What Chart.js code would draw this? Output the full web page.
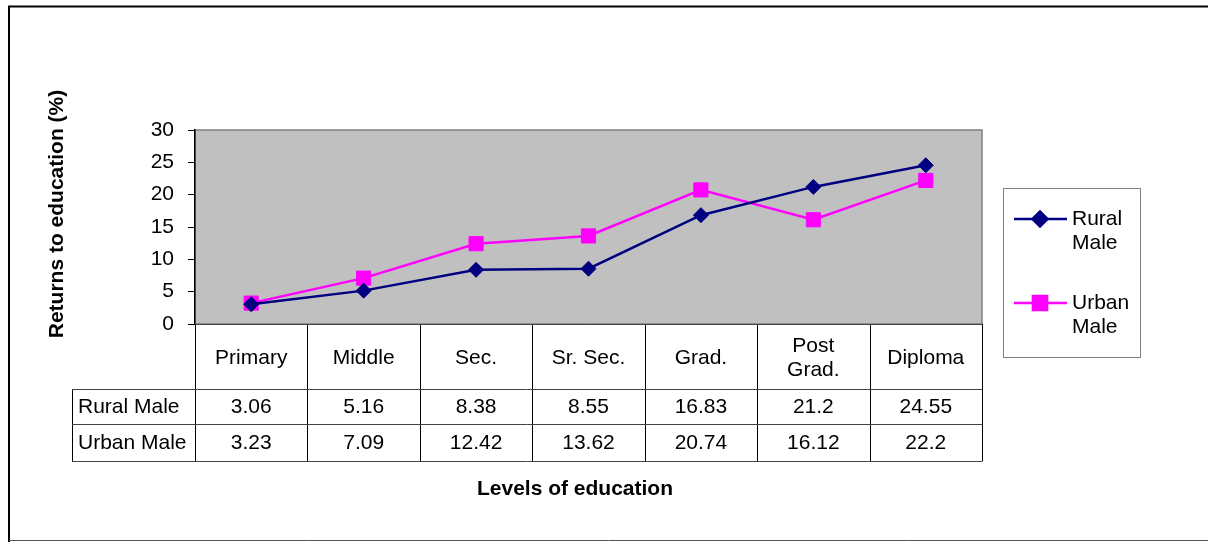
<!DOCTYPE html>
<html>
<head>
<meta charset="utf-8">
<script src="https://cdn.jsdelivr.net/npm/chart.js@4.4.1/dist/chart.umd.min.js"></script>
<style>
  html, body { margin: 0; padding: 0; background: #fff; }
  #wrap { width: 1208px; height: 542px; position: relative; }
</style>
</head>
<body>
<div id="wrap"><canvas id="c" width="1208" height="542"></canvas></div>
<script>
const levels = ['Primary', 'Middle', 'Sec.', 'Sr. Sec.', 'Grad.', ['Post', 'Grad.'], 'Diploma']
const ruralMale = [3.06, 5.16, 8.38, 8.55, 16.83, 21.2, 24.55]
const urbanMale = [3.23, 7.09, 12.42, 13.62, 20.74, 16.12, 22.2]
const yTicks = [0, 5, 10, 15, 20, 25, 30]

const FONT = "'Liberation Sans', Arial, sans-serif"
const NAVY = '#000080', PINK = '#ff00ff'

// Table rows under the plot (row label + dataset index)
const rowY = [324, 389, 424, 461]
const rowLabelLeft = 72

function lines(t) { return Array.isArray(t) ? t : [t] }

const frame = {
  id: 'frame',
  beforeDraw(chart) {
    const { ctx, chartArea: a } = chart
    ctx.save()
    ctx.fillStyle = '#fff'
    ctx.fillRect(0, 0, chart.width, chart.height)
    // outer border
    ctx.strokeStyle = '#000'
    ctx.lineWidth = 2
    ctx.beginPath()
    ctx.moveTo(9, 542); ctx.lineTo(9, 6.5); ctx.lineTo(1208, 6.5)
    ctx.stroke()
    ctx.strokeStyle = '#555'
    ctx.lineWidth = 1
    ctx.beginPath(); ctx.moveTo(9, 540.5); ctx.lineTo(1208, 540.5); ctx.stroke()
    // plot background
    ctx.fillStyle = '#c0c0c0'
    ctx.fillRect(a.left, a.top, a.right - a.left, a.bottom - a.top)
    ctx.strokeStyle = '#808080'
    ctx.lineWidth = 1.5
    ctx.strokeRect(a.left, a.top, a.right - a.left, a.bottom - a.top)
    ctx.restore()
  },
  afterDraw(chart) {
    const { ctx, chartArea: a, scales } = chart
    const x = scales.x
    const n = levels.length
    const w = (a.right - a.left) / n
    ctx.save()
    // table grid
    ctx.strokeStyle = '#000'
    ctx.lineWidth = 1
    ctx.beginPath()
    for (let i = 0; i <= n; i++) {
      const px = Math.round(i < n ? x.getPixelForTick(i) - w / 2 : x.getPixelForTick(n - 1) + w / 2) + 0.5
      ctx.moveTo(px, rowY[0]); ctx.lineTo(px, rowY[3])
    }
    ctx.moveTo(rowLabelLeft + 0.5, rowY[1]); ctx.lineTo(rowLabelLeft + 0.5, rowY[3])
    ctx.stroke()
    ctx.strokeStyle = '#444'
    ctx.beginPath()
    ctx.moveTo(a.left, rowY[0] + 0.5); ctx.lineTo(a.right, rowY[0] + 0.5)
    for (let r = 1; r <= 3; r++) {
      ctx.moveTo(rowLabelLeft, rowY[r] + 0.5); ctx.lineTo(a.right + 0.5, rowY[r] + 0.5)
    }
    ctx.stroke()

    ctx.fillStyle = '#000'
    ctx.font = '21px ' + FONT
    ctx.textBaseline = 'middle'
    ctx.textAlign = 'center'
    levels.forEach((lab, i) => {
      const cx = x.getPixelForTick(i)
      const ls = lines(lab)
      const mid = (rowY[0] + rowY[1]) / 2 + 2
      ls.forEach((t, k) => ctx.fillText(t, cx, mid + (k - (ls.length - 1) / 2) * 24))
    })
    chart.data.datasets.forEach((ds, r) => {
      const cy = (rowY[r + 1] + rowY[r + 2]) / 2 + 1
      ctx.textAlign = 'left'
      ctx.fillText(ds.label, rowLabelLeft + 6, cy)
      ctx.textAlign = 'center'
      ds.data.forEach((v, i) => ctx.fillText(String(v), x.getPixelForTick(i), cy))
    })

    // axis titles
    ctx.font = 'bold 21px ' + FONT
    ctx.textAlign = 'center'
    ctx.fillText('Levels of education', 575, 489)
    ctx.save()
    ctx.translate(57, 214)
    ctx.rotate(-Math.PI / 2)
    ctx.fillText('Returns to education (%)', 0, 0)
    ctx.restore()

    // legend
    ctx.strokeStyle = '#808080'
    ctx.lineWidth = 1
    ctx.strokeRect(1003.5, 188.5, 137, 169)
    const items = [{ y: 219 }, { y: 303 }]
    chart.data.datasets.forEach((ds, i) => {
      const ly = items[i].y
      ctx.strokeStyle = ds.borderColor
      ctx.lineWidth = 2.5
      ctx.beginPath(); ctx.moveTo(1014, ly); ctx.lineTo(1067, ly); ctx.stroke()
      Chart.helpers.drawPoint(ctx, { pointStyle: ds.pointStyle, radius: ds.pointRadius, borderWidth: 1 }, 1040, ly)
      ctx.fillStyle = ds.backgroundColor
      ctx.fill()
      ctx.fillStyle = '#000'
      ctx.textAlign = 'left'
      ctx.font = '21px ' + FONT
      const words = ds.label.split(' ')
      words.forEach((t, k) => ctx.fillText(t, 1072, ly + k * 24))
    })
    ctx.restore()
  }
}

new Chart(document.getElementById('c'), {
  type: 'line',
  data: {
    labels: levels,
    datasets: [
      { label: 'Rural Male', data: ruralMale, borderColor: NAVY, backgroundColor: NAVY, borderWidth: 2.5,
        pointStyle: 'rectRot', pointRadius: 7.5, pointHoverRadius: 7.5, pointBorderWidth: 1 },
      { label: 'Urban Male', data: urbanMale, borderColor: PINK, backgroundColor: PINK, borderWidth: 2.5,
        pointStyle: 'rect', pointRadius: 10, pointHoverRadius: 10, pointBorderWidth: 1 }
    ]
  },
  options: {
    responsive: false,
    animation: false,
    layout: { padding: { left: 0, top: 130, right: 226, bottom: 218 } },
    plugins: { legend: { display: false }, tooltip: { enabled: false } },
    scales: {
      x: { type: 'category', offset: true, display: false },
      y: {
        min: 0, max: 30,
        afterFit: s => { s.width = 195 },
        afterBuildTicks: s => { s.ticks = yTicks.map(v => ({ value: v })) },
        grid: { drawOnChartArea: false, drawTicks: true, tickLength: 7, color: '#000' },
        border: { color: '#000', width: 1.5 },
        ticks: { color: '#000', padding: 14, font: { family: FONT, size: 21 } }
      }
    }
  },
  plugins: [frame]
})
</script>
</body>
</html>
